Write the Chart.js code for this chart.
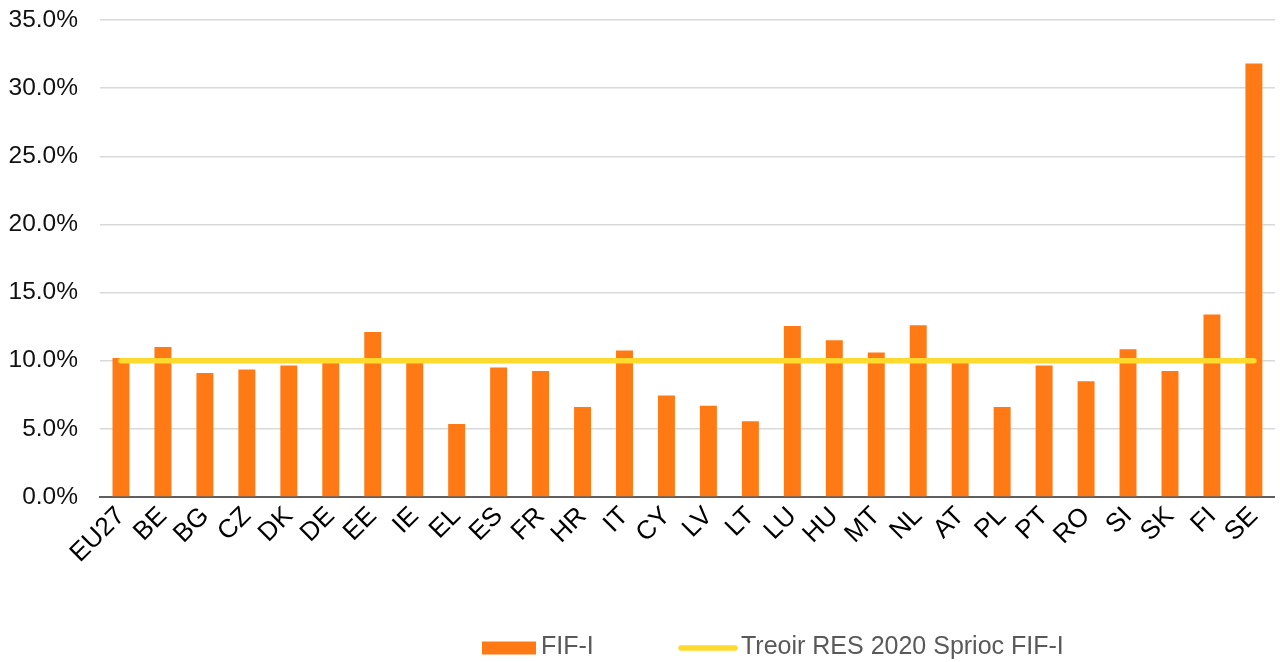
<!DOCTYPE html>
<html>
<head>
<meta charset="utf-8">
<script src="https://cdn.jsdelivr.net/npm/chart.js@4.4.1/dist/chart.umd.min.js"></script>
<style>
  html, body { margin: 0; padding: 0; background: #ffffff; }
  #wrap { width: 1280px; height: 662px; position: relative; }
</style>
</head>
<body>
<div id="wrap"><canvas id="c" width="1280" height="662"></canvas></div>
<script>
// ---- Data ----
const categories = ['EU27','BE','BG','CZ','DK','DE','EE','IE','EL','ES','FR','HR','IT','CY','LV','LT','LU','HU','MT','NL','AT','PL','PT','RO','SI','SK','FI','SE'];
const fifI = [10.2, 11.0, 9.1, 9.35, 9.65, 9.95, 12.1, 9.9, 5.35, 9.5, 9.25, 6.6, 10.75, 7.45, 6.7, 5.55, 12.55, 11.5, 10.6, 12.6, 9.9, 6.6, 9.65, 8.5, 10.85, 9.25, 13.4, 31.8];
const target2020 = [10.0, 10.0, 10.0, 10.0, 10.0, 10.0, 10.0, 10.0, 10.0, 10.0, 10.0, 10.0, 10.0, 10.0, 10.0, 10.0, 10.0, 10.0, 10.0, 10.0, 10.0, 10.0, 10.0, 10.0, 10.0, 10.0, 10.0, 10.0];
const seriesNames = ['FIF-I', 'Treoir RES 2020 Sprioc FIF-I'];
const yMin = 0, yMax = 35, yStep = 5;

const FONT = '"Liberation Sans", Arial, Helvetica, sans-serif';
const ORANGE = '#FF7A15';
const YELLOW = '#FFDA2E';

const legendPlugin = {
  id: 'customLegend',
  afterDraw(chart) {
    const ctx = chart.ctx;
    ctx.save();
    ctx.font = '25px ' + FONT;
    ctx.textBaseline = 'middle';
    ctx.textAlign = 'left';
    const y = 648;
    // bar item
    let x = 482;
    ctx.fillStyle = ORANGE;
    ctx.fillRect(x, y - 6.5, 54, 13);
    ctx.fillStyle = '#595959';
    ctx.fillText(seriesNames[0], x + 59, y - 1);
    // line item
    x = 681;
    ctx.strokeStyle = YELLOW;
    ctx.lineWidth = 5.5;
    ctx.lineCap = 'round';
    ctx.beginPath();
    ctx.moveTo(x, y);
    ctx.lineTo(x + 54, y);
    ctx.stroke();
    ctx.fillStyle = '#595959';
    ctx.fillText(seriesNames[1], x + 60, y - 1);
    ctx.restore();
  }
};

new Chart(document.getElementById('c'), {
  data: {
    labels: categories,
    datasets: [
      {
        type: 'line',
        label: seriesNames[1],
        data: target2020,
        borderColor: YELLOW,
        backgroundColor: YELLOW,
        borderWidth: 5.5,
        borderCapStyle: 'round',
        pointRadius: 0,
        pointHoverRadius: 0,
        fill: false,
        tension: 0,
        order: 0
      },
      {
        type: 'bar',
        label: seriesNames[0],
        data: fifI,
        backgroundColor: ORANGE,
        borderWidth: 0,
        categoryPercentage: 1.0,
        barPercentage: 0.404,
        order: 1
      }
    ]
  },
  options: {
    responsive: false,
    animation: false,
    devicePixelRatio: 1,
    layout: { padding: { top: 20, right: 2, bottom: 83, left: 0 } },
    plugins: {
      legend: { display: false },
      tooltip: { enabled: false }
    },
    scales: {
      x: {
        grid: { display: false, drawTicks: false },
        border: { display: true, color: '#5f5f5f', width: 2 },
        ticks: {
          color: '#000000',
          font: { family: FONT, size: 26 },
          maxRotation: 45,
          minRotation: 45,
          autoSkip: false,
          padding: 4
        },
        afterFit(scale) { scale.height = 82; }
      },
      y: {
        min: yMin,
        max: yMax,
        grid: { color: '#d9d9d9', lineWidth: 1.5, drawTicks: false },
        border: { display: false },
        ticks: {
          stepSize: yStep,
          color: '#111111',
          font: { family: FONT, size: 24.5 },
          padding: 22,
          callback: (v) => v.toFixed(1) + '%'
        },
        afterFit(scale) {
          scale.width = 100;
          scale.paddingTop = 0;
          scale.paddingBottom = 0;
        }
      }
    }
  },
  plugins: [legendPlugin]
});
</script>
</body>
</html>
